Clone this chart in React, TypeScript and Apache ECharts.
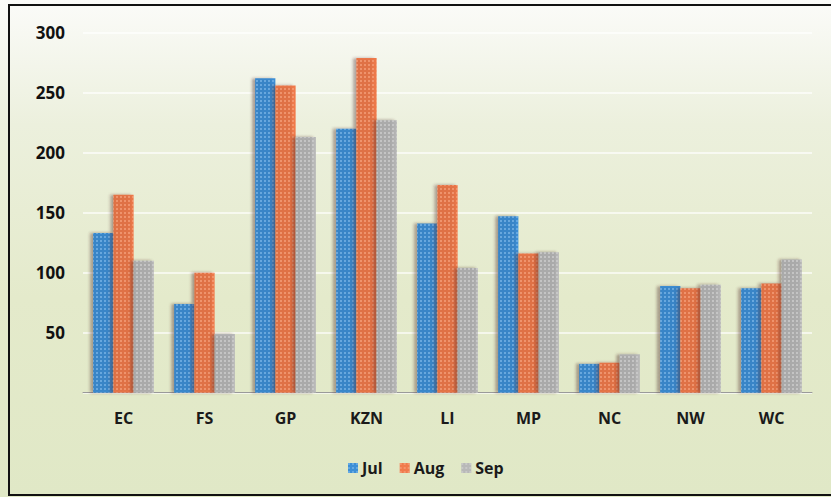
import React, { useEffect, useRef } from "react";
import * as echarts from "echarts";

const categories = ["EC", "FS", "GP", "KZN", "LI", "MP", "NC", "NW", "WC"];
const julValues = [133, 74, 262, 220, 141, 147, 24, 89, 87];
const augValues = [165, 100, 256, 279, 173, 116, 25, 87, 91];
const sepValues = [110, 49, 213, 227, 104, 117, 32, 90, 111];
const seriesNames = ["Jul", "Aug", "Sep"];
const yTicks = [0, 50, 100, 150, 200, 250, 300];

const FONT = "'Open Sans', 'Liberation Sans', sans-serif";

const colors = ["#3d8fd6", "#f07a4c", "#b8b8b8"];
const decalColors = ["rgba(200,230,255,0.55)", "rgba(255,210,185,0.55)", "rgba(235,235,235,0.6)"];

export default function App() {
  const ref = useRef<HTMLDivElement>(null);
  useEffect(() => {
    if (!ref.current) return;
    const chart = echarts.init(ref.current, null, { renderer: "svg" });
    const allValues = [julValues, augValues, sepValues];
    chart.setOption({
      animation: false,
      backgroundColor: new echarts.graphic.LinearGradient(0, 0, 0, 1, [
        { offset: 0, color: "#fbfbf9" },
        { offset: 0.25, color: "#ecf0dd" },
        { offset: 0.6, color: "#e4eacb" },
        { offset: 1, color: "#e0e8c6" },
      ]),
      textStyle: { fontFamily: FONT },
      graphic: [
        {
          type: "polyline",
          shape: { points: [[860, 5], [9, 5], [9, 495], [860, 495]] },
          style: { fill: "none", stroke: "#111", lineWidth: 2 },
          silent: true,
          z: 100,
        },
      ],
      grid: { left: 83, right: 19, top: 32.7, bottom: 104.3 },
      legend: {
        data: seriesNames,
        left: 343,
        top: 455,
        itemWidth: 10,
        itemHeight: 10,
        itemGap: 17,
        icon: "rect",
        textStyle: { fontFamily: FONT, fontWeight: "bold", fontSize: 16, color: "#1a1a1a", padding: [0, 0, 0, -1] },
      },
      xAxis: {
        type: "category",
        data: categories,
        axisLine: { lineStyle: { color: "#9a9a9a", width: 1 } },
        axisTick: { show: false },
        axisLabel: { fontFamily: FONT, fontWeight: "bold", fontSize: 16, color: "#1a1a1a", margin: 17 },
      },
      yAxis: {
        type: "value",
        min: yTicks[0],
        max: yTicks[yTicks.length - 1],
        interval: 50,
        axisLine: { show: false },
        axisTick: { show: false },
        splitLine: { lineStyle: { color: "rgba(255,255,255,0.85)", width: 1.5 } },
        axisLabel: {
          fontFamily: FONT,
          fontWeight: "bold",
          fontSize: 17,
          color: "#111",
          margin: 18,
          formatter: (v: number) => (v === 0 ? "" : String(v)),
        },
      },
      series: seriesNames.map((name, i) => ({
        name,
        type: "bar",
        data: allValues[i],
        barGap: "0%",
        barCategoryGap: "25%",
        itemStyle: {
          color: colors[i],
          shadowColor: "rgba(90,40,40,0.35)",
          shadowOffsetX: -3,
          shadowBlur: 3,
          decal: {
            symbol: "rect",
            symbolSize: 0.7,
            color: decalColors[i],
            dashArrayX: [2, 2],
            dashArrayY: [2, 2],
          },
        },
      })),
    });
    return () => chart.dispose();
  }, []);
  return <div ref={ref} style={{ position: "absolute", left: 0, top: 0, width: 831, height: 497 }} />;
}
